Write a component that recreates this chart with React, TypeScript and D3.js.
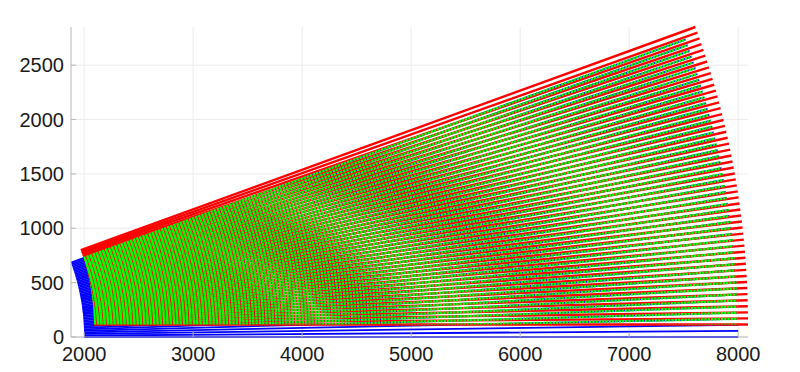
import React from "react";
import * as d3 from "d3";

// Ray angles (degrees) of the polar mesh
const rayAnglesDeg = [
  0, 0.4, 0.8, 1.2, 1.6, 2, 2.4, 2.8, 3.2, 3.6, 4, 4.4, 4.8, 5.2, 5.6, 6, 6.4, 6.8, 7.2, 7.6,
  8, 8.4, 8.8, 9.2, 9.6, 10, 10.4, 10.8, 11.2, 11.6, 12, 12.4, 12.8, 13.2, 13.6, 14, 14.4, 14.8,
  15.2, 15.6, 16, 16.4, 16.8, 17.2, 17.6, 18, 18.4, 18.8, 19.2, 19.6, 20,
];
// inner and outer radius of the mesh
const radialExtent = [2000, 8000];
// displacement of the shifted (red) mesh
const shiftXY = [90, 115];

const xTicks = [2000, 3000, 4000, 5000, 6000, 7000, 8000];
const yTicks = [0, 500, 1000, 1500, 2000, 2500];

const W = 800;
const H = 372;
const M = { left: 71, right: 52, top: 27, bottom: 35 };

export default function App() {
  const rad = (d: number) => (d * Math.PI) / 180;
  const pt = (r: number, a: number, dx = 0, dy = 0): [number, number] => [
    r * Math.cos(rad(a)) + dx,
    r * Math.sin(rad(a)) + dy,
  ];
  const maxA = d3.max(rayAnglesDeg) as number;
  const xMin = radialExtent[0] * Math.cos(rad(maxA));
  const xMax = radialExtent[1] + shiftXY[0];
  const yMax = radialExtent[1] * Math.sin(rad(maxA)) + shiftXY[1];

  const x = d3.scaleLinear().domain([xMin, xMax]).range([M.left, W - M.right]);
  const y = d3.scaleLinear().domain([0, yMax]).range([H - M.bottom, M.top]);
  const line = d3
    .line<[number, number]>()
    .x((d) => x(d[0]))
    .y((d) => y(d[1]));

  const rays = (dx: number, dy: number) =>
    rayAnglesDeg.map((a) => [pt(radialExtent[0], a, dx, dy), pt(radialExtent[1], a, dx, dy)]);

  const blueRays = rays(0, 0);
  const redRays = rays(shiftXY[0], shiftXY[1]);

  // clip polygon = outline of shifted mesh
  const inner = rayAnglesDeg.map((a) => pt(radialExtent[0], a, shiftXY[0], shiftXY[1]));
  const outer = rayAnglesDeg
    .slice()
    .reverse()
    .map((a) => pt(radialExtent[1], a, shiftXY[0], shiftXY[1]));
  const clipPath = line([...inner, ...outer]) + "Z";

  const x0 = M.left;
  const x1 = W - M.right;
  const y0 = H - M.bottom;
  const y1 = M.top;

  return (
    <svg
      width={W}
      height={H}
      style={{ position: "absolute", left: 0, top: 0, background: "#fff" }}
      fontFamily="'Liberation Sans', Arial, sans-serif"
    >
      <defs>
        <clipPath id="redArea">
          <path d={clipPath} />
        </clipPath>
      </defs>
      {/* grid */}
      <g stroke="#ececec" strokeWidth={1}>
        {xTicks.map((t) => (
          <line key={"gx" + t} x1={x(t)} x2={x(t)} y1={y0} y2={y1} />
        ))}
        {yTicks.map((t) => (
          <line key={"gy" + t} x1={x0} x2={x1} y1={y(t)} y2={y(t)} />
        ))}
      </g>
      {/* blue mesh */}
      <g stroke="#0000ff" strokeWidth={1.8} fill="none">
        {blueRays.map((r, i) => (
          <path key={"b" + i} d={line(r) as string} />
        ))}
      </g>
      {/* red shifted mesh */}
      <g stroke="#ff0000" strokeWidth={2.4} fill="none">
        {redRays.map((r, i) => (
          <path key={"r" + i} d={line(r) as string} />
        ))}
      </g>
      {/* green dashed overlay of blue mesh inside red area */}
      <g
        stroke="#00ff00"
        strokeWidth={2.4}
        fill="none"
        strokeDasharray="2.4 0.9"
        clipPath="url(#redArea)"
      >
        {blueRays.map((r, i) => (
          <path key={"g" + i} d={line(r) as string} />
        ))}
      </g>
      {/* axes */}
      <g stroke="#b8b8b8" strokeWidth={1}>
        <line x1={x0} x2={x0} y1={y0} y2={y1} />
        <line x1={x0} x2={x1} y1={y0} y2={y0} />
        {xTicks.map((t) => (
          <line key={"tx" + t} x1={x(t)} x2={x(t)} y1={y0} y2={y0 - 5} />
        ))}
        {yTicks.map((t) => (
          <line key={"ty" + t} x1={x0} x2={x0 + 5} y1={y(t)} y2={y(t)} />
        ))}
      </g>
      <g fill="#1a1a1a" fontSize={20}>
        {xTicks.map((t) => (
          <text key={"lx" + t} x={x(t)} y={y0 + 24} textAnchor="middle">
            {t}
          </text>
        ))}
        {yTicks.map((t) => (
          <text key={"ly" + t} x={x0 - 7} y={y(t) + 7} textAnchor="end">
            {t}
          </text>
        ))}
      </g>
    </svg>
  );
}
